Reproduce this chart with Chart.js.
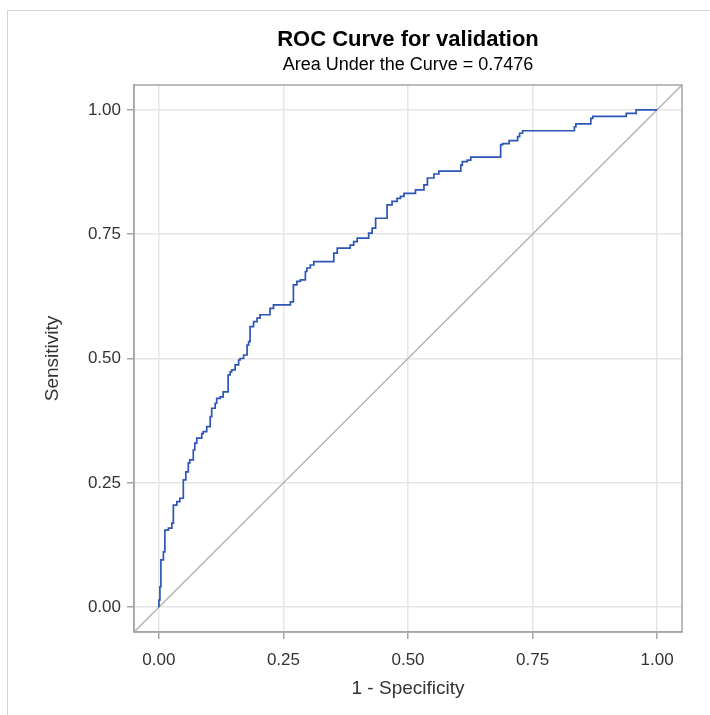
<!DOCTYPE html>
<html>
<head>
<meta charset="utf-8">
<script src="https://cdn.jsdelivr.net/npm/chart.js@4"></script>
<style>
  body { margin: 0; background: #fff; }
  #wrap { position: relative; width: 710px; height: 715px; }
  #frame { position: absolute; left: 7px; top: 10px; right: 0; bottom: 0; border-left: 1px solid #d4d4d4; border-top: 1px solid #d4d4d4; }
  canvas { position: absolute; left: 0; top: 0; }
</style>
</head>
<body>
<div id="wrap">
  <div id="frame"></div>
  <canvas id="roc" width="710" height="715"></canvas>
</div>
<script>
// ROC points (1 - specificity, sensitivity)
const fprValues = [0, 0.002, 0.004, 0.009, 0.012, 0.019, 0.026, 0.029, 0.036, 0.042, 0.049, 0.054, 0.059, 0.062, 0.069, 0.072, 0.076,
  0.086, 0.089, 0.096, 0.103, 0.106, 0.113, 0.116, 0.123, 0.129, 0.139, 0.143, 0.146, 0.153, 0.160, 0.163, 0.170, 0.177,
  0.180, 0.183, 0.190, 0.197, 0.203, 0.210, 0.223, 0.230, 0.237, 0.264, 0.270, 0.277, 0.284, 0.294, 0.297, 0.304, 0.311,
  0.321, 0.351, 0.358, 0.364, 0.384, 0.391, 0.398, 0.404, 0.421, 0.428, 0.435, 0.445, 0.458, 0.468, 0.478, 0.485, 0.492,
  0.502, 0.515, 0.519, 0.532, 0.539, 0.552, 0.562, 0.572, 0.606, 0.609, 0.619, 0.626, 0.636, 0.686, 0.690, 0.703, 0.706,
  0.720, 0.724, 0.730, 0.733, 0.834, 0.837, 0.844, 0.867, 0.871, 0.874, 0.938, 0.941, 0.958, 0.960, 1];
const tprValues = [0, 0.014, 0.041, 0.095, 0.111, 0.155, 0.159, 0.169, 0.205, 0.212, 0.219, 0.256, 0.272, 0.290, 0.296, 0.316, 0.330,
  0.340, 0.349, 0.353, 0.363, 0.383, 0.400, 0.410, 0.420, 0.423, 0.433, 0.467, 0.473, 0.477, 0.487, 0.497, 0.500, 0.507,
  0.527, 0.534, 0.564, 0.574, 0.581, 0.588, 0.588, 0.601, 0.608, 0.608, 0.614, 0.648, 0.655, 0.658, 0.675, 0.682, 0.688,
  0.695, 0.695, 0.712, 0.722, 0.722, 0.728, 0.735, 0.742, 0.742, 0.752, 0.762, 0.782, 0.782, 0.809, 0.816, 0.822, 0.826,
  0.832, 0.832, 0.839, 0.839, 0.849, 0.863, 0.871, 0.877, 0.877, 0.889, 0.896, 0.899, 0.905, 0.905, 0.930, 0.932, 0.938,
  0.938, 0.946, 0.953, 0.958, 0.958, 0.966, 0.972, 0.972, 0.983, 0.987, 0.987, 0.993, 0.993, 1, 1];

// reference diagonal runs corner to corner of the plot
const diagValues = [-0.05, 1.05];
const tickValues = [0, 0.25, 0.5, 0.75, 1];

const rocPoints = fprValues.map((x, i) => ({x: x, y: tprValues[i]}));
const diagPoints = diagValues.map(v => ({x: v, y: v}));

const fontFamily = "'Liberation Sans', Arial, sans-serif";

// box around the plot area
const frameBox = {
  id: "frameBox",
  afterDatasetsDraw(chart) {
    const {ctx, chartArea} = chart;
    ctx.save();
    ctx.strokeStyle = "#a6a6a6";
    ctx.lineWidth = 1.5;
    ctx.strokeRect(chartArea.left, chartArea.top, chartArea.right - chartArea.left, chartArea.bottom - chartArea.top);
    ctx.restore();
  }
};

function setTicks(scale) {
  scale.ticks = tickValues.map(v => ({value: v}));
}

new Chart(document.getElementById("roc"), {
  type: "line",
  data: {
    datasets: [
      {
        data: diagPoints,
        borderColor: "#b4b4b4",
        borderWidth: 1.5,
        pointRadius: 0,
        order: 2
      },
      {
        data: rocPoints,
        borderColor: "#2d55b6",
        borderWidth: 1.7,
        pointRadius: 0,
        stepped: "after",
        order: 1
      }
    ]
  },
  options: {
    responsive: false,
    animation: false,
    layout: { padding: { left: 0, right: 28, top: 0, bottom: 0 } },
    plugins: {
      legend: { display: false },
      tooltip: { enabled: false },
      title: {
        display: true,
        fullSize: false,
        text: "ROC Curve for validation",
        color: "#000",
        font: { family: fontFamily, size: 22, weight: "bold" },
        padding: { top: 27, bottom: 0 }
      },
      subtitle: {
        display: true,
        fullSize: false,
        text: "Area Under the Curve = 0.7476",
        color: "#000",
        font: { family: fontFamily, size: 18 },
        padding: { top: 1, bottom: 9 }
      }
    },
    scales: {
      x: {
        type: "linear",
        min: -0.05,
        max: 1.05,
        afterBuildTicks: setTicks,
        afterFit: s => { s.height = 83; },
        grid: { color: "#e6e6e6", tickColor: "#a6a6a6", tickLength: 7, lineWidth: 1.5 },
        border: { color: "#a6a6a6", width: 1.5 },
        ticks: {
          color: "#333",
          padding: 11,
          font: { family: fontFamily, size: 17 },
          callback: v => v.toFixed(2)
        },
        title: {
          display: true,
          text: "1 - Specificity",
          color: "#333",
          font: { family: fontFamily, size: 19 },
          padding: { top: 0, bottom: 15 }
        }
      },
      y: {
        type: "linear",
        min: -0.05,
        max: 1.05,
        afterBuildTicks: setTicks,
        afterFit: s => { s.width = 134; },
        grid: { color: "#e6e6e6", tickColor: "#a6a6a6", tickLength: 7, lineWidth: 1.5 },
        border: { color: "#a6a6a6", width: 1.5 },
        ticks: {
          color: "#333",
          padding: 6,
          font: { family: fontFamily, size: 17 },
          callback: v => v.toFixed(2)
        },
        title: {
          display: true,
          text: "Sensitivity",
          color: "#333",
          font: { family: fontFamily, size: 19 },
          padding: { top: 41, bottom: 0 }
        }
      }
    }
  },
  plugins: [frameBox]
});
</script>
</body>
</html>
